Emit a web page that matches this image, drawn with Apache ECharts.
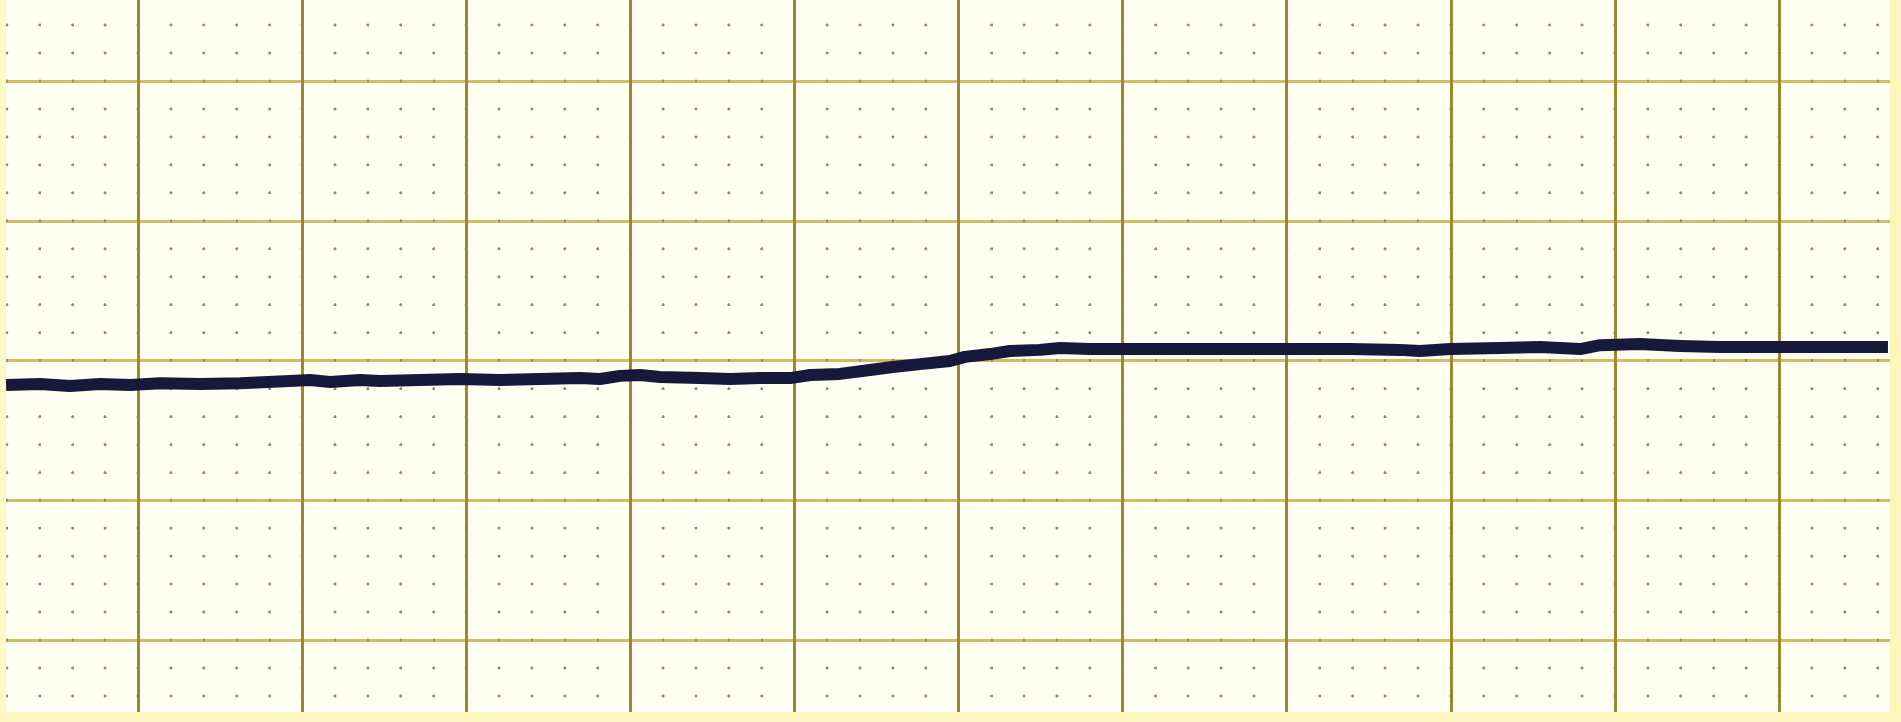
<!DOCTYPE html>
<html>
<head>
<meta charset="utf-8">
<script src="https://cdn.jsdelivr.net/npm/echarts@6/dist/echarts.min.js"></script>
<style>
html,body{margin:0;padding:0;background:#fffff2;}
#chart{width:1901px;height:722px;}
</style>
</head>
<body>
<div id="chart"></div>
<script>
// Trace read from the recorder paper, in minor grid divisions
const traceX = [0.98, 2.01, 2.93, 3.84, 4.76, 5.67, 6.89, 8.11, 9.63, 10.24, 10.85, 11.76, 12.37, 13.59, 14.81, 16.03, 17.25, 18.47, 19.08, 19.69, 20.30, 20.90, 22.12, 23.04, 23.95, 24.87, 25.48, 26.39, 27.30, 28.00, 28.83, 29.74, 30.20, 30.96, 31.57, 32.48, 33.09, 34.01, 35.53, 37.36, 38.88, 40.40, 41.93, 43.45, 44.06, 44.98, 46.50, 47.72, 48.94, 49.55, 50.76, 51.98, 53.20, 54.42, 55.64, 57.16, 58.32];
const traceY = [14.12, 14.16, 14.09, 14.16, 14.12, 14.19, 14.16, 14.19, 14.27, 14.30, 14.23, 14.30, 14.27, 14.30, 14.34, 14.30, 14.34, 14.37, 14.34, 14.45, 14.48, 14.41, 14.37, 14.34, 14.37, 14.37, 14.48, 14.52, 14.66, 14.77, 14.87, 14.98, 15.13, 15.23, 15.34, 15.38, 15.45, 15.41, 15.41, 15.41, 15.41, 15.41, 15.41, 15.38, 15.34, 15.41, 15.45, 15.48, 15.41, 15.55, 15.59, 15.52, 15.48, 15.48, 15.48, 15.48, 15.48];

const data = traceX.map((x, i) => [x, traceY[i]]);

const chart = echarts.init(document.getElementById('chart'), null, {renderer: 'canvas'});
chart.setOption({
  backgroundColor: '#fffff2',
  animation: false,
  grid: {left: -26.1, right: -42.1, top: -58.75, bottom: -57.75, containLabel: false, outerBoundsMode: 'none'},
  xAxis: {
    type: 'value', min: 0, max: 60, interval: 5,
    axisLine: {show: false}, axisTick: {show: false}, axisLabel: {show: false},
    splitLine: {show: true, lineStyle: {color: '#9a8832', width: 3}},
    minorTick: {show: false, splitNumber: 5},
    minorSplitLine: {show: true, lineStyle: {color: 'rgba(110,110,80,0.55)', width: 2, type: [3, 24.95], dashOffset: 1.5}}
  },
  yAxis: {
    type: 'value', min: 0, max: 30, interval: 5,
    axisLine: {show: false}, axisTick: {show: false}, axisLabel: {show: false},
    splitLine: {show: true, lineStyle: {color: '#d2bc66', width: 3}},
    minorTick: {show: false, splitNumber: 5},
    minorSplitLine: {show: true, lineStyle: {color: 'rgba(110,110,80,0.55)', width: 2, type: [3, 29.82], dashOffset: 1.5}}
  },
  series: [{
    type: 'line',
    data: data,
    symbol: 'none',
    smooth: false,
    lineStyle: {color: '#18183c', width: 12, join: 'round'},
    z: 5
  }],
  graphic: [
    {type: 'rect', left: 0, top: 0, shape: {width: 6, height: 722}, style: {fill: '#fdf8c8'}, z: 100},
    {type: 'rect', left: 1890, top: 0, shape: {width: 11, height: 722}, style: {fill: '#fdf6b8'}, z: 100},
    {type: 'rect', left: 0, top: 712, shape: {width: 1901, height: 10}, style: {fill: '#fdf6c0'}, z: 100}
  ]
});
</script>
</body>
</html>
